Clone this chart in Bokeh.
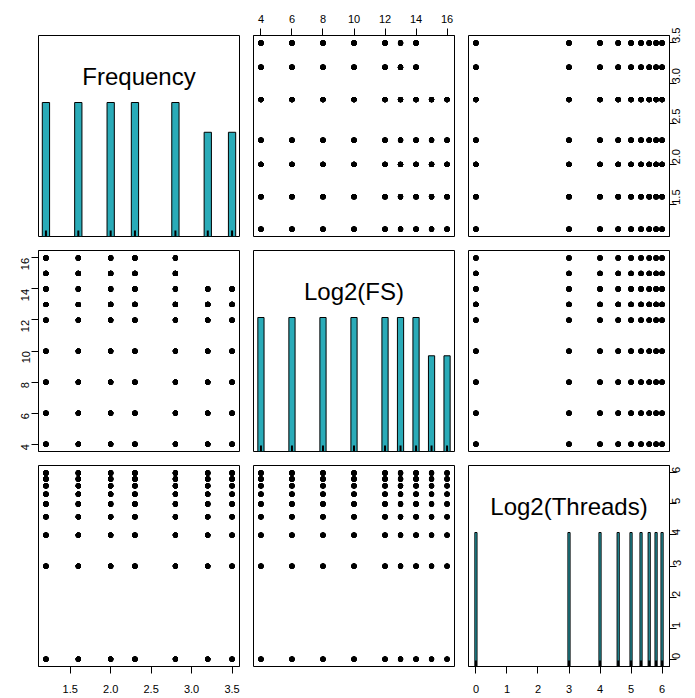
import math
import numpy as np
from bokeh.plotting import figure
from bokeh.layouts import gridplot
from bokeh.models import Range1d, LinearAxis, FixedTicker, NumeralTickFormatter
from bokeh.core.properties import value
from bokeh.embed import file_html
from bokeh.resources import INLINE

# ---- data (levels) ----
freq_levels = [1.2, 1.6, 2.0, 2.3, 2.8, 3.2, 3.5]
fs_max_per_freq = [16, 16, 16, 16, 16, 14, 14]
fs_levels = [4, 6, 8, 10, 12, 13, 14, 15, 16]
threads_levels = [0, 3, 4, 4.585, 5, 5.322, 5.585, 5.807, 6]

names = ["Frequency", "Log2(FS)", "Log2(Threads)"]
freq_ticks = [1.5, 2.0, 2.5, 3.0, 3.5]
fs_ticks = [4, 6, 8, 10, 12, 14, 16]
threads_ticks = [0, 1, 2, 3, 4, 5, 6]
all_ticks = [freq_ticks, fs_ticks, threads_ticks]
formats = ["0.0", "0", "0"]

rows = []
for f, fmax in zip(freq_levels, fs_max_per_freq):
    for s in fs_levels:
        if s > fmax:
            continue
        for t in threads_levels:
            rows.append((f, s, t))
data = np.array(rows)
cols = [data[:, 0], data[:, 1], data[:, 2]]

bar_widths = [0.09, 0.4, 0.07]
BAR_COLOR = "#2aabb8"
FONT = "Liberation Sans"

def padded(v):
    lo, hi = float(np.min(v)), float(np.max(v))
    d = (hi - lo) * 0.04
    return lo - d, hi + d

rngs = [padded(c) for c in cols]

FRAME = 201
left_b = [38, 7, 7]
right_b = [7, 7, 26]
top_b = [35, 7, 7]
bot_b = [7, 7, 32]

def style_axis(ax, ticks, fmt, vertical=False, standoff=6):
    ax.ticker = FixedTicker(ticks=ticks)
    ax.formatter = NumeralTickFormatter(format=fmt)
    ax.axis_line_color = "black"
    ax.major_tick_line_color = "black"
    ax.major_tick_out = 7
    ax.major_tick_in = 0
    ax.minor_tick_line_color = None
    ax.major_label_text_font = FONT
    ax.major_label_text_font_size = "11px"
    ax.major_label_text_color = "black"
    ax.major_label_standoff = standoff
    if vertical:
        ax.major_label_orientation = math.pi / 2
    return ax

grid = []
for r in range(3):
    row = []
    for c in range(3):
        diag = (r == c)
        x0, x1 = rngs[c]
        if diag:
            yr = Range1d(0, 1.5)
        else:
            yr = Range1d(*rngs[r])
        p = figure(frame_width=FRAME, frame_height=FRAME,
                   x_range=Range1d(x0, x1), y_range=yr,
                   x_axis_location=None, y_axis_location=None,
                   toolbar_location=None, output_backend="svg",
                   min_border_left=left_b[c], min_border_right=right_b[c],
                   min_border_top=top_b[r], min_border_bottom=bot_b[r])
        p.grid.visible = False
        p.outline_line_color = "black"
        p.outline_line_width = 1
        p.background_fill_color = "white"
        p.border_fill_color = "white"

        if diag:
            vals, counts = np.unique(cols[c], return_counts=True)
            heights = counts / counts.max()
            p.vbar(x=vals, width=bar_widths[c], bottom=0, top=heights,
                   fill_color=BAR_COLOR, line_color="black", line_width=1)
            p.segment(x0=vals, y0=0, x1=vals, y1=0.045, line_color="black", line_width=2)
            p.text(x=[(x0 + x1) / 2], y=[1.194], text=[names[c]],
                   text_font=value(FONT), text_font_size="24px",
                   text_align="center", text_baseline="alphabetic", text_color="black")
        else:
            p.scatter(x=cols[c], y=cols[r], size=5.2, fill_color="black", line_color=None)

        # axes as in R pairs()
        if r == 0 and c == 1:
            p.add_layout(style_axis(LinearAxis(), all_ticks[1], formats[1], standoff=6), "above")
        if r == 0 and c == 2:
            p.add_layout(style_axis(LinearAxis(), all_ticks[0], formats[0], vertical=True, standoff=0), "right")
        if r == 1 and c == 0:
            p.add_layout(style_axis(LinearAxis(), all_ticks[1], formats[1], vertical=True, standoff=6), "left")
        if r == 2 and c == 0:
            p.add_layout(style_axis(LinearAxis(), all_ticks[0], formats[0], standoff=11), "below")
        if r == 2 and c == 2:
            p.add_layout(style_axis(LinearAxis(), all_ticks[2], formats[2], standoff=11), "below")
            p.extra_y_ranges = {"t": Range1d(*rngs[2])}
            p.add_layout(style_axis(LinearAxis(y_range_name="t"), all_ticks[2], formats[2],
                                    vertical=True, standoff=0), "right")
        row.append(p)
    grid.append(row)

layout = gridplot(grid, toolbar_location=None)
open("out.html", "w").write(file_html(layout, INLINE))
